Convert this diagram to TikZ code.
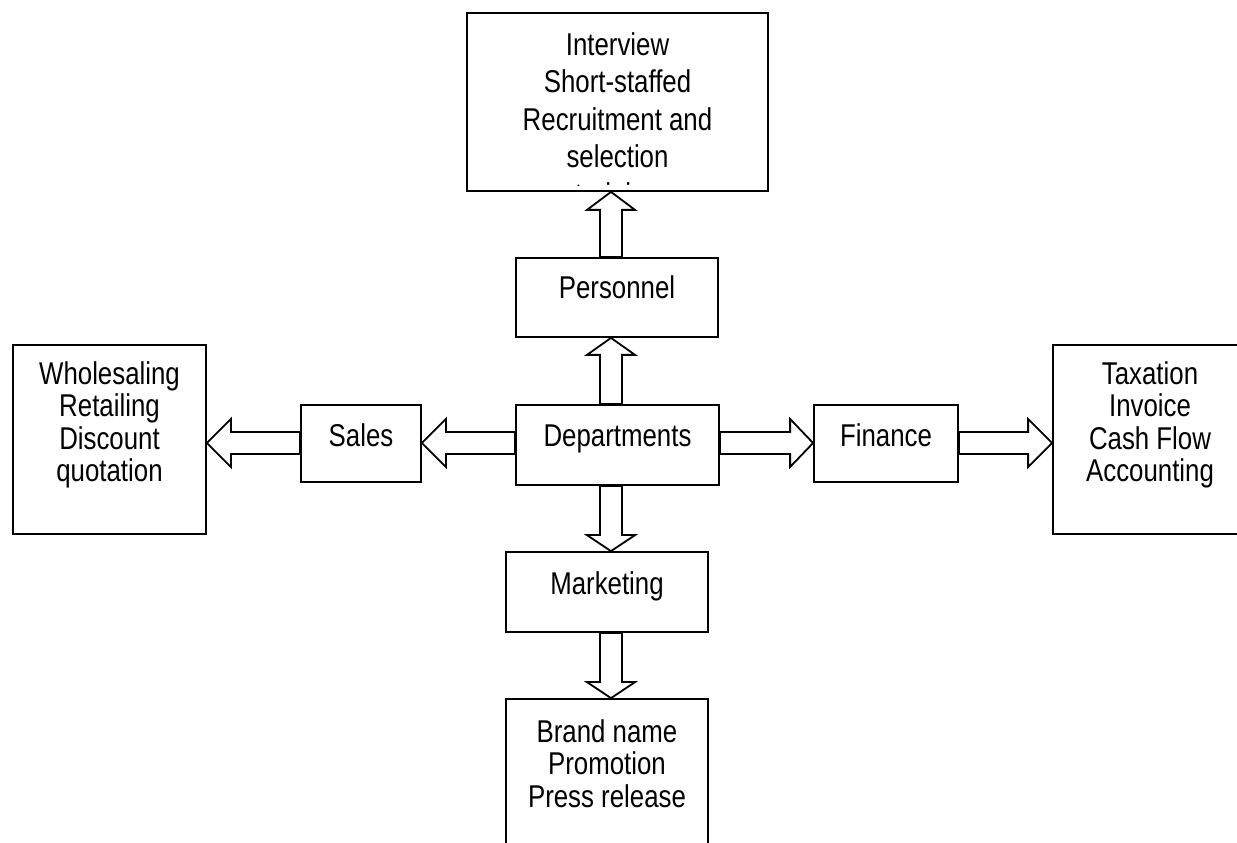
\documentclass[tikz,border=0pt]{standalone}
\usepackage{fontspec}
\setmainfont[FakeStretch=0.82]{Liberation Sans}
\usetikzlibrary{calc}
\tikzset{
  box/.style={draw, line width=1.8pt, inner sep=0pt, rectangle},
  txt/.style={inner sep=0pt, align=center, font=\fontsize{31.5}{#1}\selectfont},
  txt/.default=32.5,
  barrow/.style={draw, fill=white, line width=1.8pt, line join=miter},
}
% block arrow from coordinate #1 to coordinate #2 (tip), head length #3
\newcommand\bkarrow[3]{%
  \coordinate (hb) at ($(#2)!#3!(#1)$);
  \draw[barrow] ($(#1)!11pt!90:(#2)$) -- ($(hb)!11pt!90:(#2)$) -- ($(hb)!24pt!90:(#2)$)
    -- (#2) -- ($(hb)!24pt!-90:(#2)$) -- ($(hb)!11pt!-90:(#2)$) -- ($(#1)!11pt!-90:(#2)$) -- cycle;
}
\begin{document}
\begin{tikzpicture}[x=1pt,y=1pt]
\useasboundingbox (0,0) rectangle (1237,843);
\clip (0,0) rectangle (1237,843);
\coordinate (vx) at (611,0);
\coordinate (hy) at (0,400);
% boxes
\node[box, minimum width=301pt, minimum height=178pt] (top) at (617.5,741) {};
\node[box, minimum width=202pt, minimum height=79pt] (pers) at (617,545.5) {};
\node[box, minimum width=203pt, minimum height=80pt] (dept) at (617.5,398) {};
\node[box, minimum width=120pt, minimum height=77pt] (sales) at (361,399.5) {};
\node[box, minimum width=144pt, minimum height=77pt] (fin) at (886,399.5) {};
\node[box, minimum width=193pt, minimum height=189pt] (left) at (109.5,403.5) {};
\node[box, minimum width=197pt, minimum height=189pt] (right) at (1151.5,403.5) {};
\node[box, minimum width=202pt, minimum height=80pt] (mkt) at (607,251) {};
\node[box, minimum width=202pt, minimum height=204pt] (bot) at (607,42) {};
% texts
\begin{scope}
  \clip (467,657) rectangle (768,830);
  \node[txt=37.5, anchor=north] (topT) at (617.5,811) {Interview\\Short-staffed\\Recruitment and\\selection\\training};
\end{scope}
\node[txt, anchor=base] (persT) at (617,544) {Personnel};
\node[txt, anchor=base] (deptT) at (617.5,396.5) {Departments};
\node[txt, anchor=base] (salesT) at (361,396) {Sales};
\node[txt, anchor=base] (finT) at (886,396) {Finance};
\node[txt, anchor=base] (mktT) at (607,248) {Marketing};
\node[txt=32.5, anchor=north] (leftT) at (109.5,482) {Wholesaling\\Retailing\\Discount\\quotation};
\node[txt=32.5, anchor=north] (rightT) at (1150,482) {Taxation\\Invoice\\Cash Flow\\Accounting};
\node[txt=32.5, anchor=north] (botT) at (607,124) {Brand name\\Promotion\\Press release};
% connectors
\coordinate (a1) at (vx |- pers.north); \coordinate (b1) at (vx |- top.south);
\bkarrow{a1}{b1}{18pt}
\coordinate (a2) at (vx |- dept.north); \coordinate (b2) at (vx |- pers.south);
\bkarrow{a2}{b2}{17pt}
\coordinate (a3) at (vx |- dept.south); \coordinate (b3) at (vx |- mkt.north);
\bkarrow{a3}{b3}{16pt}
\coordinate (a4) at (vx |- mkt.south); \coordinate (b4) at (vx |- bot.north);
\bkarrow{a4}{b4}{16pt}
\coordinate (a5) at (dept.west |- hy); \coordinate (b5) at (sales.east |- hy);
\bkarrow{a5}{b5}{24pt}
\coordinate (a6) at (sales.west |- hy); \coordinate (b6) at (left.east |- hy);
\bkarrow{a6}{b6}{24pt}
\coordinate (a7) at (dept.east |- hy); \coordinate (b7) at (fin.west |- hy);
\bkarrow{a7}{b7}{23pt}
\coordinate (a8) at (fin.east |- hy); \coordinate (b8) at (right.west |- hy);
\bkarrow{a8}{b8}{24pt}
\end{tikzpicture}
\end{document}
